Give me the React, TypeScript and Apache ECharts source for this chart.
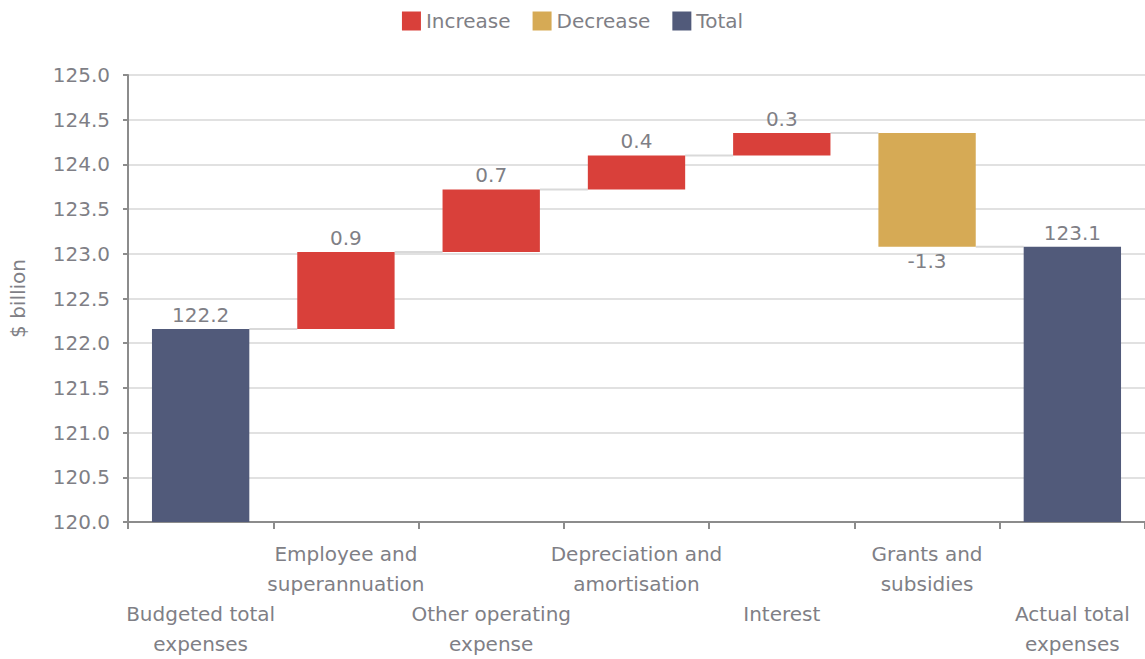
import React, { useEffect, useRef } from "react";
import * as echarts from "echarts";

const categories = [
  "Budgeted total\nexpenses",
  "Employee and\nsuperannuation",
  "Other operating\nexpense",
  "Depreciation and\namortisation",
  "Interest",
  "Grants and\nsubsidies",
  "Actual total\nexpenses",
];
const startTotal = 122.16;
const changes = [0.86, 0.7, 0.38, 0.25, -1.27];
const endTotal = 123.08;
const yTicks = { min: 120, max: 125, interval: 0.5 };

const FONT = "'DejaVu Sans', sans-serif";
const TEXT = "#7f7f86";

export default function App() {
  const ref = useRef<HTMLDivElement>(null);
  useEffect(() => {
    if (!ref.current) return;
    const chart = echarts.init(ref.current, undefined, { renderer: "svg" });

    const n = categories.length;
    const base: (number | string)[] = [];
    const inc: (number | string)[] = [];
    const dec: (number | string)[] = [];
    const tot: (number | string)[] = [];
    const levels: number[] = [];
    base.push("-");
    inc.push("-");
    dec.push("-");
    tot.push(startTotal);
    levels.push(startTotal);
    let cur = startTotal;
    changes.forEach((c) => {
      if (c >= 0) {
        base.push(cur);
        inc.push(c);
        dec.push("-");
      } else {
        base.push(cur + c);
        inc.push("-");
        dec.push(-c);
      }
      tot.push("-");
      cur = cur + c;
      levels.push(cur);
    });
    base.push("-");
    inc.push("-");
    dec.push("-");
    tot.push(endTotal);

    const connectors = levels.map((lv, i) => [i, lv]);

    const labelStyle = {
      show: true,
      color: TEXT,
      fontSize: 20,
      fontFamily: FONT,
      distance: 4,
    };

    chart.setOption({
      animation: false,
      textStyle: { fontFamily: FONT },
      legend: {
        top: 6,
        left: "center",
        itemWidth: 19,
        itemHeight: 19,
        itemGap: 22,
        itemTextGap: 10,
        icon: "rect",
        textStyle: { color: TEXT, fontSize: 20, fontFamily: FONT },
        data: ["Increase", "Decrease", "Total"],
      },
      grid: { left: 128, right: 0, top: 75, bottom: 134, containLabel: false },
      xAxis: {
        type: "category",
        data: categories,
        axisLine: { lineStyle: { color: "#8c8c8c", width: 2 } },
        axisTick: { show: true, interval: 0, length: 7, lineStyle: { color: "#8c8c8c", width: 2 } },
        axisLabel: {
          interval: 0,
          color: TEXT,
          fontSize: 20,
          fontFamily: FONT,
          lineHeight: 30,
          margin: 17,
          formatter: (v: string, i: number) => (i % 2 === 0 ? "\n\n" + v : v),
        },
      },
      yAxis: {
        type: "value",
        min: yTicks.min,
        max: yTicks.max,
        interval: yTicks.interval,
        name: "$ billion",
        nameLocation: "middle",
        nameGap: 100,
        nameTextStyle: { color: TEXT, fontSize: 20, fontFamily: FONT },
        axisLine: { show: true, lineStyle: { color: "#8c8c8c", width: 2 } },
        axisTick: { show: true, length: 5, lineStyle: { color: "#8c8c8c", width: 2 } },
        axisLabel: {
          color: TEXT,
          fontSize: 20,
          fontFamily: FONT,
          margin: 18,
          formatter: (v: number) => v.toFixed(1),
        },
        splitLine: { lineStyle: { color: "#e1e1e1", width: 2 } },
      },
      series: [
        {
          name: "base",
          type: "bar",
          stack: "w",
          data: base,
          barWidth: "67%",
          itemStyle: { color: "transparent" },
          emphasis: { disabled: true },
          silent: true,
        },
        {
          name: "Increase",
          type: "bar",
          stack: "w",
          data: inc,
          itemStyle: { color: "#d9403a" },
          label: { ...labelStyle, position: "top", formatter: (p: any) => p.value.toFixed(1) },
        },
        {
          name: "Decrease",
          type: "bar",
          stack: "w",
          data: dec,
          itemStyle: { color: "#d6aa55" },
          label: { ...labelStyle, position: "bottom", formatter: (p: any) => (-p.value).toFixed(1) },
        },
        {
          name: "Total",
          type: "bar",
          stack: "w",
          data: tot,
          itemStyle: { color: "#515a7a" },
          label: { ...labelStyle, position: "top", formatter: (p: any) => p.value.toFixed(1) },
        },
        {
          name: "connectors",
          type: "custom",
          silent: true,
          data: connectors.slice(0, n - 1),
          renderItem: (params: any, api: any) => {
            const i = api.value(0);
            const lv = api.value(1);
            const band = api.size([1, 0])[0];
            const half = (band * 0.67) / 2;
            const p1 = api.coord([i, lv]);
            const p2 = api.coord([i + 1, lv]);
            return {
              type: "line",
              shape: { x1: p1[0] + half, y1: p1[1], x2: p2[0] - half, y2: p2[1] },
              style: { stroke: "#d9d9d9", lineWidth: 2 },
            };
          },
          z: 1,
        },
      ],
    });
    return () => chart.dispose();
  }, []);
  return <div ref={ref} style={{ width: 1145, height: 659, position: "absolute", left: 0, top: 0 }} />;
}
